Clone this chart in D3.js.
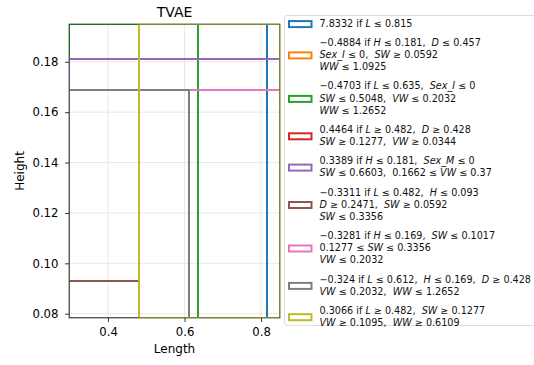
<!DOCTYPE html>
<html lang="en">
<head>
<meta charset="UTF-8">
<title>TVAE rules</title>
<script src="https://d3js.org/d3.v7.min.js"></script>
<style>
  body { margin: 0; background: white; }
  svg { font-family: 'DejaVu Sans', sans-serif; }
  .grid line { stroke: #e2e2e2; stroke-width: 0.8px; }
  .legend text { white-space: pre; }
</style>
</head>
<body>
<script>
// rule weights and their boxes in (Length, Height) space; null = unbounded
var ruleWeights = [7.8332, -0.4884, -0.4703, 0.4464, 0.3389, -0.3311, -0.3281, -0.324, 0.3066];
var lengthLow  = [null, null, null, 0.482, null, null, null, null, 0.482];
var lengthHigh = [0.815, null, 0.635, null, null, 0.482, null, 0.612, null];
var heightLow  = [null, null, null, null, null, null, null, null, null];
var heightHigh = [null, 0.181, null, null, 0.181, 0.093, 0.169, 0.169, null];

// legend text, {} marks italic
var ruleLabels = [
  ["7.8332 if {L} ≤ 0.815"],
  ["−0.4884 if {H} ≤ 0.181,  {D} ≤ 0.457", "{Sex_I} ≤ 0,  {SW} ≥ 0.0592", "{WW} ≤ 1.0925"],
  ["−0.4703 if {L} ≤ 0.635,  {Sex_I} ≤ 0", "{SW} ≤ 0.5048,  {VW} ≤ 0.2032", "{WW} ≤ 1.2652"],
  ["0.4464 if {L} ≥ 0.482,  {D} ≥ 0.428", "{SW} ≥ 0.1277,  {VW} ≥ 0.0344"],
  ["0.3389 if {H} ≤ 0.181,  {Sex_M} ≤ 0", "{SW} ≤ 0.6603,  0.1662 ≤ {VW} ≤ 0.37"],
  ["−0.3311 if {L} ≤ 0.482,  {H} ≤ 0.093", "{D} ≥ 0.2471,  {SW} ≥ 0.0592", "{SW} ≤ 0.3356"],
  ["−0.3281 if {H} ≤ 0.169,  {SW} ≤ 0.1017", "0.1277 ≤ {SW} ≤ 0.3356", "{VW} ≤ 0.2032"],
  ["−0.324 if {L} ≤ 0.612,  {H} ≤ 0.169,  {D} ≥ 0.428", "{VW} ≤ 0.2032,  {WW} ≤ 1.2652"],
  ["0.3066 if {L} ≥ 0.482,  {SW} ≥ 0.1277", "{VW} ≥ 0.1095,  {WW} ≥ 0.6109"]
];

var xTicks = [0.4, 0.6, 0.8];
var yTicks = [0.08, 0.10, 0.12, 0.14, 0.16, 0.18];
var xLimits = [0.298, 0.8495];
var yLimits = [0.0783, 0.195];

var colors = d3.schemeCategory10;

var width = 534, height = 365;
var plot = {left: 69, top: 24, right: 280, bottom: 318};

var svg = d3.select("body").append("svg")
    .attr("width", width)
    .attr("height", height);

var x = d3.scaleLinear().domain(xLimits).range([plot.left, plot.right]);
var y = d3.scaleLinear().domain(yLimits).range([plot.bottom, plot.top]);

svg.append("defs").append("clipPath").attr("id", "clip")
  .append("rect")
    .attr("x", plot.left).attr("y", plot.top)
    .attr("width", plot.right - plot.left)
    .attr("height", plot.bottom - plot.top);

// grid
var grid = svg.append("g").attr("class", "grid");
grid.selectAll(".gx").data(xTicks).enter().append("line")
    .attr("x1", d => x(d)).attr("x2", d => x(d))
    .attr("y1", plot.top).attr("y2", plot.bottom);
grid.selectAll(".gy").data(yTicks).enter().append("line")
    .attr("y1", d => y(d)).attr("y2", d => y(d))
    .attr("x1", plot.left).attr("x2", plot.right);

// rule boxes
function lo(arr, i, lim) { return arr[i] == null ? lim : arr[i]; }
svg.append("g").attr("clip-path", "url(#clip)")
  .selectAll("rect")
  .data(ruleWeights.map((w, i) => i))
  .enter().append("rect")
    .attr("x", i => x(lo(lengthLow, i, xLimits[0])))
    .attr("width", i => x(lo(lengthHigh, i, xLimits[1])) - x(lo(lengthLow, i, xLimits[0])))
    .attr("y", i => y(lo(heightHigh, i, yLimits[1])))
    .attr("height", i => y(lo(heightLow, i, yLimits[0])) - y(lo(heightHigh, i, yLimits[1])))
    .attr("fill", "none")
    .attr("stroke", i => colors[i])
    .attr("stroke-width", 2)
    .attr("shape-rendering", "crispEdges");

// spines
svg.append("rect")
    .attr("x", plot.left).attr("y", plot.top)
    .attr("width", plot.right - plot.left)
    .attr("height", plot.bottom - plot.top)
    .attr("fill", "none")
    .attr("stroke", "#000")
    .attr("stroke-opacity", 0.7)
    .attr("stroke-width", 0.8);

// axes
var xAxis = svg.append("g")
    .attr("transform", "translate(0," + plot.bottom + ")")
    .call(d3.axisBottom(x).tickValues(xTicks).tickFormat(d3.format(".1f")).tickSize(4).tickPadding(6));
var yAxis = svg.append("g")
    .attr("transform", "translate(" + plot.left + ",0)")
    .call(d3.axisLeft(y).tickValues(yTicks).tickFormat(d3.format(".2f")).tickSize(4).tickPadding(6.5));
[xAxis, yAxis].forEach(function(a) {
    a.select(".domain").remove();
    a.selectAll(".tick line").attr("stroke", "#000").attr("stroke-width", 0.8);
    a.attr("font-family", null).attr("font-size", null);
    a.selectAll(".tick text").attr("font-size", 11.7).attr("fill", "#000");
});

svg.append("text")
    .attr("x", (plot.left + plot.right) / 2).attr("y", 353)
    .attr("text-anchor", "middle").attr("font-size", 12)
    .text("Length");
svg.append("text")
    .attr("transform", "translate(24," + ((plot.top + plot.bottom) / 2) + ") rotate(-90)")
    .attr("text-anchor", "middle").attr("font-size", 12)
    .text("Height");
svg.append("text")
    .attr("x", (plot.left + plot.right) / 2).attr("y", 16.7)
    .attr("text-anchor", "middle").attr("font-size", 14)
    .text("TVAE");

// legend
var legend = svg.append("g").attr("class", "legend");
legend.append("rect")
    .attr("x", 284.5).attr("y", 15.5)
    .attr("width", 260).attr("height", 310)
    .attr("rx", 2.5)
    .attr("fill", "white").attr("fill-opacity", 0.8)
    .attr("stroke", "#d6d6d6").attr("stroke-width", 0.8);

var lineH = 12.2, entryGap = 6.9;
var cy = 23.3;
ruleLabels.forEach(function(lines, i) {
    var first = cy;
    var g = legend.append("g");
    lines.forEach(function(line, j) {
        var t = g.append("text")
            .attr("x", 319.5).attr("y", cy + j * lineH + 3.5)
            .attr("font-size", 9.65).attr("fill", "#111");
        line.split(/(\{[^}]*\})/).forEach(function(part) {
            if (!part) return;
            if (part[0] === "{") {
                t.append("tspan").attr("font-style", "italic").text(part.slice(1, -1));
            } else {
                t.append("tspan").text(part);
            }
        });
    });
    var mid = first + (lines.length - 1) * lineH / 2 + 0.8;
    g.append("rect")
        .attr("x", 289).attr("y", mid - 3)
        .attr("width", 22.5).attr("height", 6)
        .attr("fill", "white")
        .attr("stroke", colors[i]).attr("stroke-width", 2);
    cy += lines.length * lineH + entryGap;
});
</script>
</body>
</html>
